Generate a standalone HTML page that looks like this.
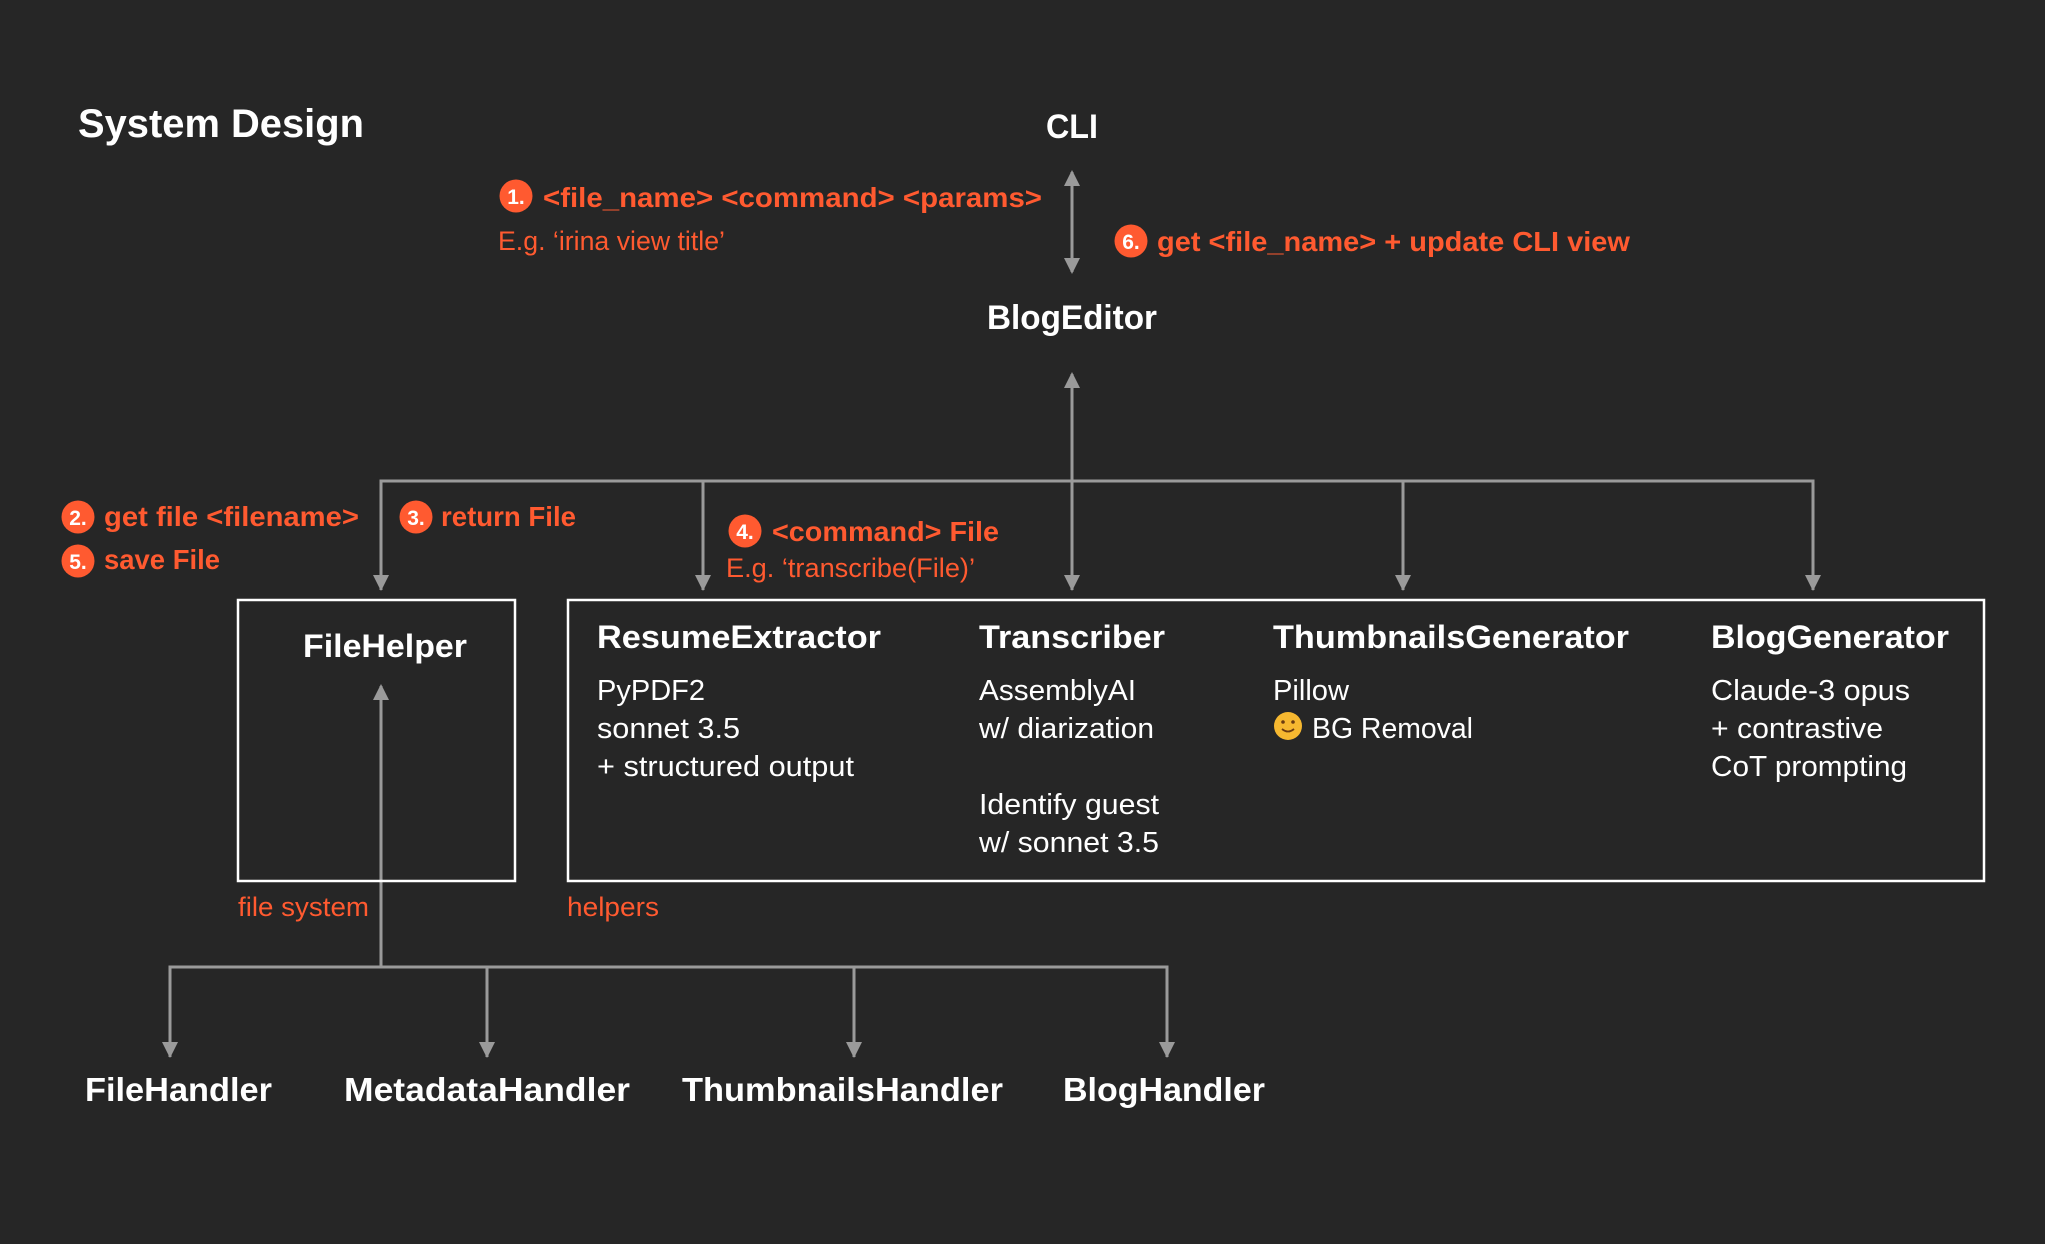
<!DOCTYPE html>
<html><head><meta charset="utf-8"><style>
html,body{margin:0;padding:0;background:#262626;}
svg{display:block;}
text{font-family:"Liberation Sans",sans-serif;}
.w{fill:#fff;font-weight:bold;}
.b{fill:#fff;}
.o{fill:#FF5A30;font-weight:bold;}
.or{fill:#FF5A30;}
.n{fill:#fff;font-weight:bold;font-size:21px;}
.l{stroke:#9a9a9a;stroke-width:3;fill:none;}
.a{fill:#9a9a9a;}
</style></head><body>
<svg width="2045" height="1244" viewBox="0 0 2045 1244" xmlns="http://www.w3.org/2000/svg">
<rect width="2045" height="1244" fill="#262626"/>
<defs>
<marker id="ah" markerWidth="10" markerHeight="10" refX="5" refY="5" orient="auto-start-reverse" markerUnits="userSpaceOnUse" viewBox="0 0 10 10"><path d="M0,0 L10,5 L0,10 z" fill="#9a9a9a"/></marker>
</defs>
<g class="a">
</g>
<!-- Lines -->
<g class="l">
<line x1="1072" y1="172" x2="1072" y2="272"/>
<line x1="1072" y1="374" x2="1072" y2="590"/>
<polyline points="381,590 381,481 1813,481 1813,590"/>
<line x1="703" y1="481" x2="703" y2="590"/>
<line x1="1403" y1="481" x2="1403" y2="590"/>
<line x1="381" y1="686" x2="381" y2="967"/>
<polyline points="170,1057 170,967 1167,967 1167,1057"/>
<line x1="487" y1="967" x2="487" y2="1057"/>
<line x1="854" y1="967" x2="854" y2="1057"/>
</g>
<g fill="#9a9a9a">
<path d="M1064,186 L1072,170 L1080,186 z"/>
<path d="M1064,258 L1072,274 L1080,258 z"/>
<path d="M1064,388 L1072,372 L1080,388 z"/>
<path d="M373,575 L381,591 L389,575 z"/>
<path d="M695,575 L703,591 L711,575 z"/>
<path d="M1064,575 L1072,591 L1080,575 z"/>
<path d="M1395,575 L1403,591 L1411,575 z"/>
<path d="M1805,575 L1813,591 L1821,575 z"/>
<path d="M373,700 L381,684 L389,700 z"/>
<path d="M162,1042 L170,1058 L178,1042 z"/>
<path d="M479,1042 L487,1058 L495,1042 z"/>
<path d="M846,1042 L854,1058 L862,1042 z"/>
<path d="M1159,1042 L1167,1058 L1175,1042 z"/>
</g>
<!-- Boxes -->
<rect x="238" y="600" width="277" height="281" fill="none" stroke="#fff" stroke-width="2.5"/>
<rect x="568" y="600" width="1416" height="281" fill="none" stroke="#fff" stroke-width="2.5"/>
<!-- Titles -->
<text class="w" x="78" y="137" font-size="40" textLength="286" lengthAdjust="spacingAndGlyphs">System Design</text>
<text class="w" x="1046" y="138" font-size="34" textLength="52" lengthAdjust="spacingAndGlyphs">CLI</text>
<text class="w" x="987" y="329" font-size="34" textLength="170" lengthAdjust="spacingAndGlyphs">BlogEditor</text>
<!-- Step labels -->
<circle cx="516" cy="196" r="16.5" fill="#FF5A30"/><text class="n" x="516" y="204" text-anchor="middle">1.</text>
<text class="o" x="543" y="207" font-size="28" textLength="499" lengthAdjust="spacingAndGlyphs">&lt;file_name&gt; &lt;command&gt; &lt;params&gt;</text>
<text class="or" x="498" y="250" font-size="27" textLength="227" lengthAdjust="spacingAndGlyphs">E.g. ‘irina view title’</text>
<circle cx="1131" cy="241" r="16.5" fill="#FF5A30"/><text class="n" x="1131" y="249" text-anchor="middle">6.</text>
<text class="o" x="1157" y="251" font-size="28" textLength="473" lengthAdjust="spacingAndGlyphs">get &lt;file_name&gt; + update CLI view</text>
<circle cx="78" cy="517" r="16.5" fill="#FF5A30"/><text class="n" x="78" y="525" text-anchor="middle">2.</text>
<text class="o" x="104" y="526" font-size="28" textLength="255" lengthAdjust="spacingAndGlyphs">get file &lt;filename&gt;</text>
<circle cx="78" cy="561" r="16.5" fill="#FF5A30"/><text class="n" x="78" y="569" text-anchor="middle">5.</text>
<text class="o" x="104" y="569" font-size="28" textLength="116" lengthAdjust="spacingAndGlyphs">save File</text>
<circle cx="416" cy="517" r="16.5" fill="#FF5A30"/><text class="n" x="416" y="525" text-anchor="middle">3.</text>
<text class="o" x="441" y="526" font-size="28" textLength="135" lengthAdjust="spacingAndGlyphs">return File</text>
<circle cx="745" cy="531" r="16.5" fill="#FF5A30"/><text class="n" x="745" y="539" text-anchor="middle">4.</text>
<text class="o" x="772" y="541" font-size="28" textLength="227" lengthAdjust="spacingAndGlyphs">&lt;command&gt; File</text>
<text class="or" x="726" y="577" font-size="27" textLength="249" lengthAdjust="spacingAndGlyphs">E.g. ‘transcribe(File)’</text>
<!-- Box contents -->
<text class="w" x="303" y="657" font-size="32" textLength="164" lengthAdjust="spacingAndGlyphs">FileHelper</text>
<text class="w" x="597" y="648" font-size="32" textLength="284" lengthAdjust="spacingAndGlyphs">ResumeExtractor</text>
<text class="b" x="597" y="700" font-size="29" textLength="108" lengthAdjust="spacingAndGlyphs">PyPDF2</text>
<text class="b" x="597" y="738" font-size="29" textLength="143" lengthAdjust="spacingAndGlyphs">sonnet 3.5</text>
<text class="b" x="597" y="776" font-size="29" textLength="257" lengthAdjust="spacingAndGlyphs">+ structured output</text>
<text class="w" x="979" y="648" font-size="32" textLength="186" lengthAdjust="spacingAndGlyphs">Transcriber</text>
<text class="b" x="979" y="700" font-size="29" textLength="157" lengthAdjust="spacingAndGlyphs">AssemblyAI</text>
<text class="b" x="979" y="738" font-size="29" textLength="175" lengthAdjust="spacingAndGlyphs">w/ diarization</text>
<text class="b" x="979" y="814" font-size="29" textLength="180" lengthAdjust="spacingAndGlyphs">Identify guest</text>
<text class="b" x="979" y="852" font-size="29" textLength="180" lengthAdjust="spacingAndGlyphs">w/ sonnet 3.5</text>
<text class="w" x="1273" y="648" font-size="32" textLength="356" lengthAdjust="spacingAndGlyphs">ThumbnailsGenerator</text>
<text class="b" x="1273" y="700" font-size="29" textLength="76" lengthAdjust="spacingAndGlyphs">Pillow</text>
<circle cx="1288" cy="726" r="14" fill="#F6B830"/>
<circle cx="1283" cy="722" r="1.8" fill="#6b3b10"/><circle cx="1293" cy="722" r="1.8" fill="#6b3b10"/>
<path d="M1282,729 Q1288,734 1294,729" stroke="#6b3b10" stroke-width="1.8" fill="none"/>
<text class="b" x="1312" y="738" font-size="29" textLength="161" lengthAdjust="spacingAndGlyphs">BG Removal</text>
<text class="w" x="1711" y="648" font-size="32" textLength="238" lengthAdjust="spacingAndGlyphs">BlogGenerator</text>
<text class="b" x="1711" y="700" font-size="29" textLength="199" lengthAdjust="spacingAndGlyphs">Claude-3 opus</text>
<text class="b" x="1711" y="738" font-size="29" textLength="172" lengthAdjust="spacingAndGlyphs">+ contrastive</text>
<text class="b" x="1711" y="776" font-size="29" textLength="196" lengthAdjust="spacingAndGlyphs">CoT prompting</text>
<text class="or" x="238" y="916" font-size="27" textLength="131" lengthAdjust="spacingAndGlyphs">file system</text>
<text class="or" x="567" y="916" font-size="27" textLength="92" lengthAdjust="spacingAndGlyphs">helpers</text>
<!-- Bottom -->
<text class="w" x="85" y="1101" font-size="33" textLength="187" lengthAdjust="spacingAndGlyphs">FileHandler</text>
<text class="w" x="344" y="1101" font-size="33" textLength="286" lengthAdjust="spacingAndGlyphs">MetadataHandler</text>
<text class="w" x="682" y="1101" font-size="33" textLength="321" lengthAdjust="spacingAndGlyphs">ThumbnailsHandler</text>
<text class="w" x="1063" y="1101" font-size="33" textLength="202" lengthAdjust="spacingAndGlyphs">BlogHandler</text>
</svg>
</body></html>
